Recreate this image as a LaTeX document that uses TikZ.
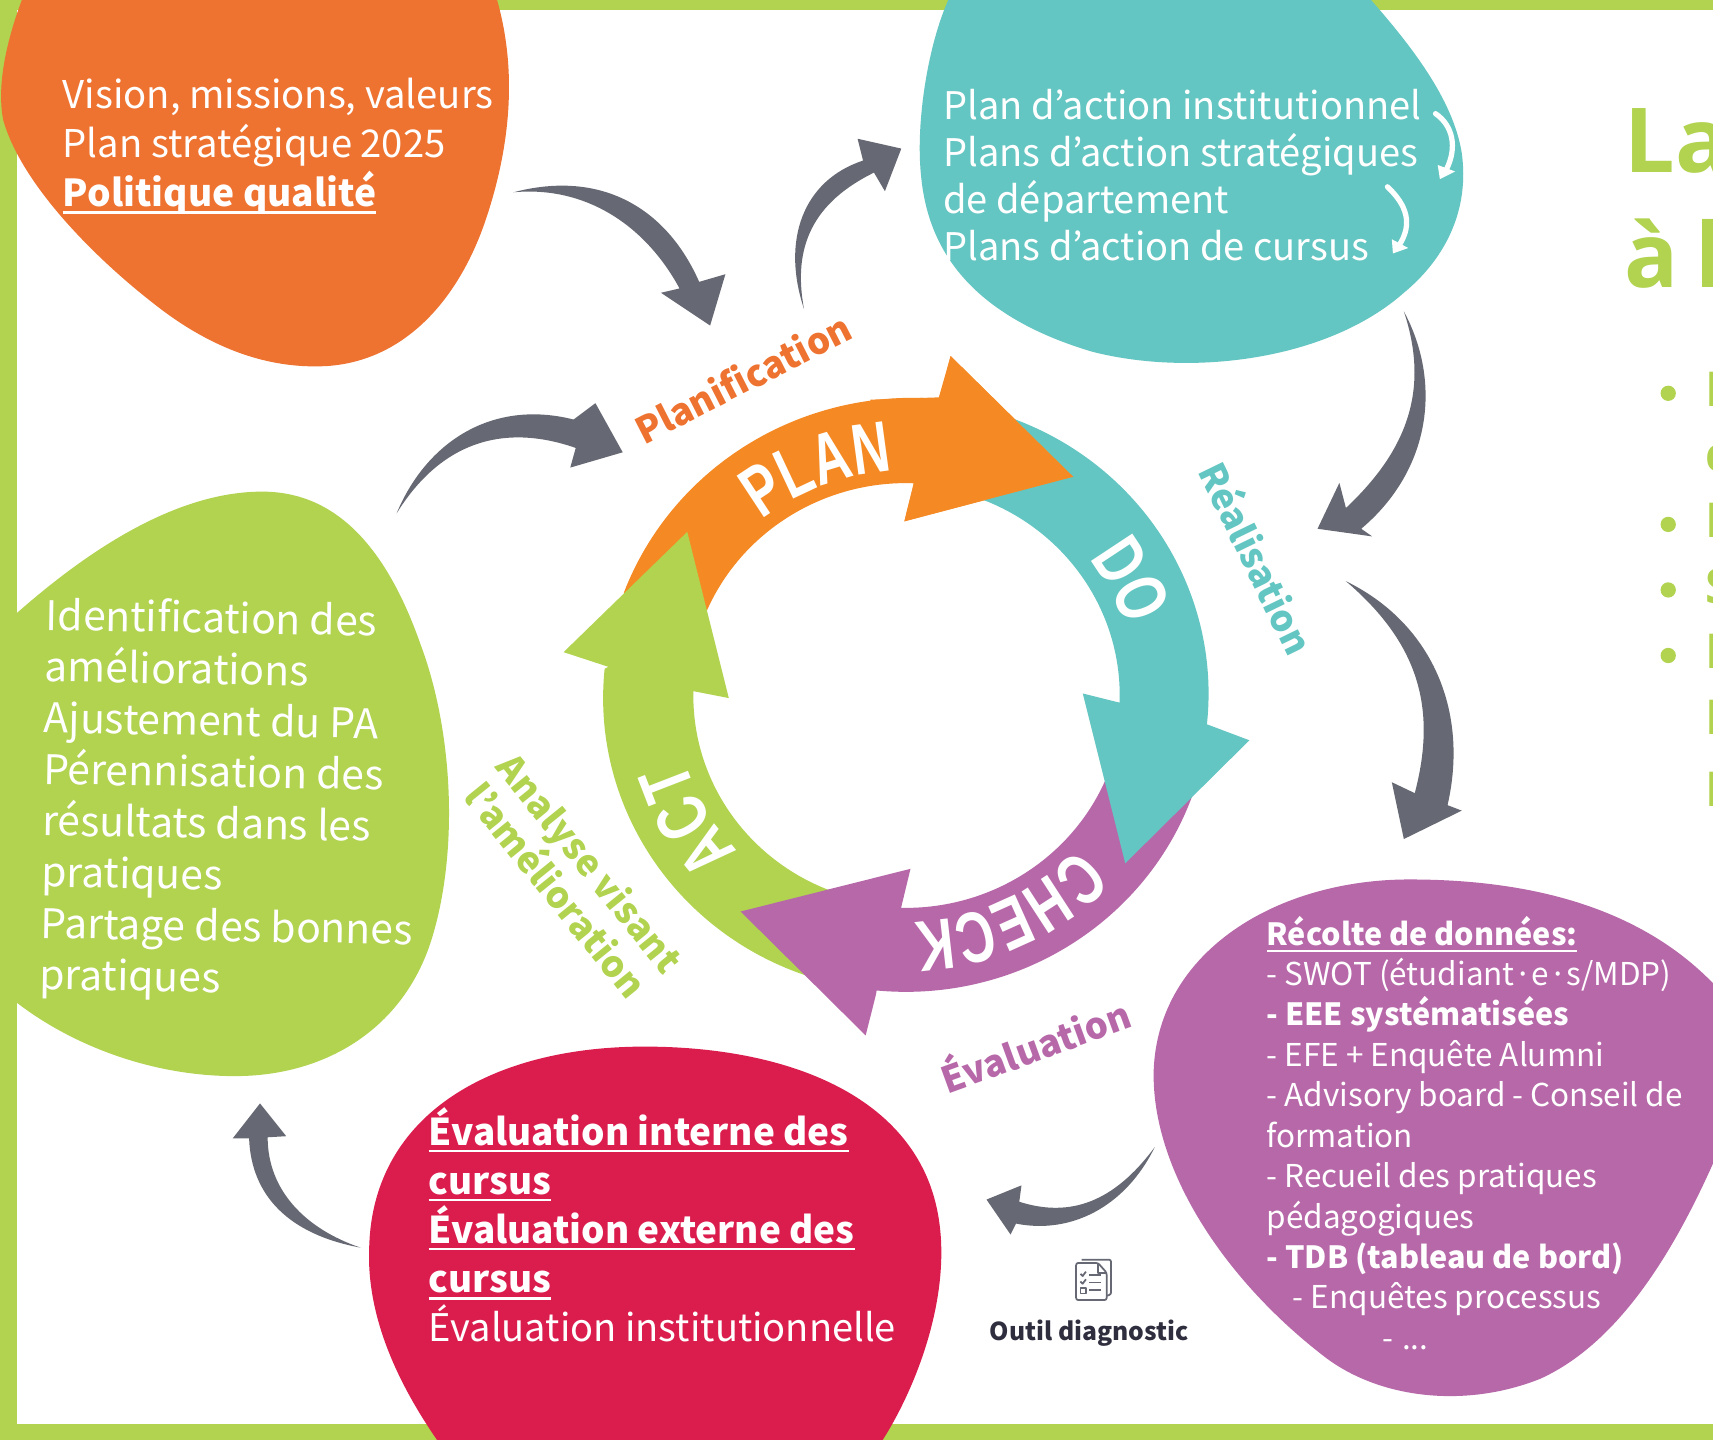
\documentclass[tikz,border=0pt]{standalone}
\usepackage{fontspec}
\usetikzlibrary{decorations.text}
\setmainfont{Noto Sans CJK KR}
\newfontfamily\ringf[FakeStretch=0.72]{Liberation Sans}
\newfontfamily\titlef{Open Sans}
\definecolor{cgreen}{HTML}{B1D34F}
\definecolor{corange}{HTML}{EE7230}
\definecolor{cring}{HTML}{F58A24}
\definecolor{cteal}{HTML}{64C6C2}
\definecolor{cred}{HTML}{DB1D4E}
\definecolor{cpurple}{HTML}{B768A9}
\definecolor{cgray}{HTML}{666973}
\definecolor{cdark}{HTML}{2E2E3F}
\newcommand{\uln}[1]{\setbox0=\hbox{#1}\rlap{\raisebox{-3.2pt}{\rule{\wd0}{1.1pt}}}\box0}
\newcommand{\fsz}[2]{\fontsize{#1}{#2}\selectfont}
\tikzset{
  blobtext/.style={text=white,anchor=north west,align=left,inner sep=0pt},
  arrowfill/.style={fill=cgray,draw=none},
  vlabel/.style={font=\bfseries\fsz{16.7}{20},inner sep=0pt},
  ringtext/.style={decorate,decoration={text along path,text align=center,text={|\ringf\bfseries\fsz{33}{35}\color{white}|#1}}},
}
\begin{document}
\begin{tikzpicture}[x=0.5pt,y=-0.5pt,line join=round]
\useasboundingbox (0,0) rectangle (1568,1318);
\fill[white] (0,0) rectangle (1568,1318);
% frame
\fill[cgreen] (0,0) rectangle (1568,9);
\fill[cgreen] (0,0) rectangle (16,1318);
\fill[cgreen] (0,1303) rectangle (1568,1318);
% blobs
\fill[corange] (20,0) .. controls (5,40) and (-3,80) .. (3,110)
  .. controls (20,170) and (90,240) .. (150,285)
  .. controls (200,322) and (250,338) .. (300,335)
  .. controls (370,330) and (420,275) .. (445,200)
  .. controls (465,140) and (475,70) .. (455,0) -- cycle;
\fill[cteal] (868,0) .. controls (850,40) and (838,110) .. (843,160)
  .. controls (848,215) and (875,285) .. (1000,322)
  .. controls (1090,345) and (1215,330) .. (1285,268)
  .. controls (1325,235) and (1345,190) .. (1338,140)
  .. controls (1330,90) and (1290,40) .. (1255,0) -- cycle;
\fill[cgreen] (0,575) .. controls (60,520) and (150,450) .. (240,450)
  .. controls (300,450) and (350,490) .. (385,590)
  .. controls (415,670) and (420,780) .. (395,860)
  .. controls (370,940) and (300,985) .. (215,985)
  .. controls (130,985) and (50,950) .. (0,905) -- cycle;
\fill[cred] (400,1318) .. controls (360,1260) and (335,1200) .. (338,1140)
  .. controls (342,1020) and (450,958) .. (590,958)
  .. controls (700,958) and (805,990) .. (845,1070)
  .. controls (885,1150) and (845,1260) .. (808,1318) -- cycle;
\fill[cpurple] (1568,900) .. controls (1500,830) and (1400,805) .. (1290,805)
  .. controls (1170,805) and (1060,870) .. (1056,980)
  .. controls (1054,1070) and (1120,1170) .. (1210,1240)
  .. controls (1260,1280) and (1340,1290) .. (1410,1262)
  .. controls (1480,1230) and (1530,1150) .. (1568,1065) -- cycle;
% gray arrows
\path[arrowfill] (470,176) .. controls (550,155) and (610,190) .. (640,258)
  -- (664,251) -- (650,298) -- (605,268) -- (622,264)
  .. controls (590,205) and (535,170) .. (470,176) -- cycle;
\path[arrowfill] (736,283) .. controls (715,220) and (735,165) .. (790,147)
  -- (785,127) -- (825,136) -- (810,175) -- (800,158)
  .. controls (745,185) and (725,225) .. (736,283) -- cycle;
\path[arrowfill] (1285,285) .. controls (1320,350) and (1310,430) .. (1246,484)
  -- (1256,491) -- (1206,484) -- (1226,442) -- (1232,465)
  .. controls (1285,415) and (1310,360) .. (1285,285) -- cycle;
\path[arrowfill] (1232,532) .. controls (1310,570) and (1345,650) .. (1325,737)
  -- (1338,742) -- (1285,768) -- (1274,716) -- (1295,726)
  .. controls (1315,650) and (1300,590) .. (1232,532) -- cycle;
\path[arrowfill] (1057,1050) .. controls (1030,1105) and (980,1130) .. (930,1120)
  -- (925,1130) -- (903,1098) -- (935,1085) -- (933,1100)
  .. controls (980,1115) and (1020,1100) .. (1057,1050) -- cycle;
\path[arrowfill] (330,1142) .. controls (265,1130) and (230,1095) .. (228,1042)
  -- (213,1042) -- (238,1010) -- (262,1040) -- (245,1041)
  .. controls (245,1090) and (280,1125) .. (330,1142) -- cycle;
\path[arrowfill] (363,470) .. controls (390,405) and (450,365) .. (525,384)
  -- (545,369) -- (570,414) -- (522,428) -- (527,410)
  .. controls (455,385) and (400,410) .. (363,470) -- cycle;
% white mini arrows
\draw[white,line width=2.4pt,line cap=round] (1314,104) .. controls (1330,115) and (1334,135) .. (1324,155);
\fill[white] (1332,157) -- (1318,164) -- (1316,151) -- cycle;
\draw[white,line width=2.4pt,line cap=round] (1270,171) .. controls (1288,188) and (1293,205) .. (1281,224);
\fill[white] (1289,227) -- (1275,232) -- (1274,219) -- cycle;
% the PDCA ring
\begin{scope}[shift={(494.3,311.2)},x=0.216pt,y=-0.2101pt]
  \coordinate (C) at (775,775);
  \fill[cring] (790,780) ++(200.5:654) arc[start angle=200.5,end angle=275,radius=654]
     -- (870,35) -- (1130,298) -- (772,395) -- (792,312)
     arc[start angle=272,end angle=198,radius=460] -- cycle;
  \fill[cgreen] (C) ++(105:645) arc[start angle=105,end angle=185.7,radius=640]
     -- (145,712) -- (50,680) -- (312,418) -- (400,780) -- (325,765)
     arc[start angle=181.3,end angle=105,radius=455] -- cycle;
  \fill[cpurple] (C) ++(18:645) arc[start angle=18,end angle=95.5,radius=645]
     -- (712,1425) -- (690,1515) -- (425,1245) -- (785,1152) -- (765,1237)
     arc[start angle=91.2,end angle=18,radius=461] -- cycle;
  \fill[cteal] (C) ++(-72:645) arc[start angle=-72,end angle=6,radius=640]
     -- (1503,872) -- (1240,1140) -- (1150,770) -- (1228,790)
     arc[start angle=2,end angle=-72,radius=458] -- cycle;
  \fill[cring] (845,125) -- (870,35) -- (1130,298) -- (772,395) -- (792,312)
     -- (700,300) -- (700,130) -- cycle;
  \path[ringtext=PLAN] (C) ++(215:490) arc[start angle=215,end angle=283,radius=490];
  \path[ringtext=DO] (C) ++(-55:490) arc[start angle=-55,end angle=0,radius=490];
  \path[ringtext=CHECK] (C) ++(30:492) arc[start angle=30,end angle=100,radius=492];
  \path[ringtext=ACT] (C) ++(125:490) arc[start angle=125,end angle=175,radius=490];
\end{scope}
% rotated process labels
\node[vlabel,text=corange,rotate=27] (plabel) at (680,346) {Planification};
\node[vlabel,text=cteal,rotate=-64] (rlabel) at (1152,510) {Réalisation};
\node[vlabel,text=cpurple,rotate=20] (elabel) at (947,955) {Évaluation};
\node[vlabel,text=cgreen,rotate=-51,align=center] (alabel) at (525,802) {Analyse visant\\[0pt]l'amélioration};
% blob texts
\node[blobtext,font=\fsz{17.5}{22.5}] (t1) at (57,71) {Vision, missions, valeurs\\Plan stratégique 2025\\\bfseries\fsz{17}{22.5}\uln{Politique qualité}};
\node[blobtext,font=\fsz{17.4}{21.5}] (t2) at (863,81) {Plan d'action institutionnel\\Plans d'action stratégiques\\de département\\Plans d'action de cursus};
\node[blobtext,font=\fsz{18.7}{23.5},rotate=-1] (t3) at (42,546) {Identification des\\améliorations\\Ajustement du PA\\Pérennisation des\\résultats dans les\\pratiques\\Partage des bonnes\\pratiques};
\node[blobtext,font=\fsz{17.4}{22.5}] (t4) at (392,1013) {{\bfseries\fsz{16.9}{22.5}\uln{Évaluation interne des}}\\{\bfseries\fsz{16.9}{22.5}\uln{cursus}}\\{\bfseries\fsz{16.9}{22.5}\uln{Évaluation externe des}}\\{\bfseries\fsz{16.9}{22.5}\uln{cursus}}\\Évaluation institutionnelle};
\node[blobtext,font=\fsz{14.4}{18.5}] (t5) at (1159,838) {{\bfseries\fsz{14}{18.5}\uln{Récolte de données:}}\\- SWOT (étudiant·e·s/MDP)\\{\bfseries\fsz{14}{18.5}- EEE systématisées}\\- EFE + Enquête Alumni\\- Advisory board - Conseil de\\formation\\- Recueil des pratiques\\pédagogiques\\{\bfseries\fsz{14}{18.5}- TDB (tableau de bord)}\\\hspace{12pt}- Enquêtes processus\\\hspace{53pt}-\hspace{4pt}...};
% icon and caption
\begin{scope}[draw=cgray,line width=0.8pt]
  \draw[rounded corners=1pt] (990,1153) -- (1017,1153) -- (1017,1185) -- (1013,1186);
  \draw[fill=white,rounded corners=1pt] (985,1156) -- (1005,1156) -- (1013,1165) -- (1013,1190) -- (985,1190) -- cycle;
  \draw (1005,1156) -- (1005,1165) -- (1013,1165);
  \draw (989,1166) -- (991,1168) -- (994,1164);
  \draw (997,1167) -- (1008,1167);
  \draw (989,1173) -- (991,1175) -- (994,1171);
  \draw (997,1174) -- (1008,1174);
  \draw (989,1179) rectangle (994,1184);
  \draw (997,1181) -- (1008,1181);
\end{scope}
\node[font=\bfseries\fsz{11.3}{15},text=cdark,inner sep=0pt] (cap) at (997,1220) {Outil diagnostic};
% cropped title and bullets at the right edge
\node[font=\titlef\bfseries\fsz{41}{50},text=cgreen,anchor=base west,inner sep=0pt] (ti1) at (1487,158) {La};
\node[font=\titlef\bfseries\fsz{41}{50},text=cgreen,anchor=base west,inner sep=0pt] (ti2) at (1487,263) {à\kern-3pt\ l};
\foreach \yy in {360,480,540,600} \fill[cgreen] (1527,\yy) circle[radius=7];
\foreach \yy/\tt in {372/P,432/c,492/P,552/S,612/P,672/P,738/P}
  \node[font=\titlef\bfseries\fsz{22}{24},text=cgreen,anchor=base west,inner sep=0pt] at (1561,\yy) {\tt};
\end{tikzpicture}
\end{document}
